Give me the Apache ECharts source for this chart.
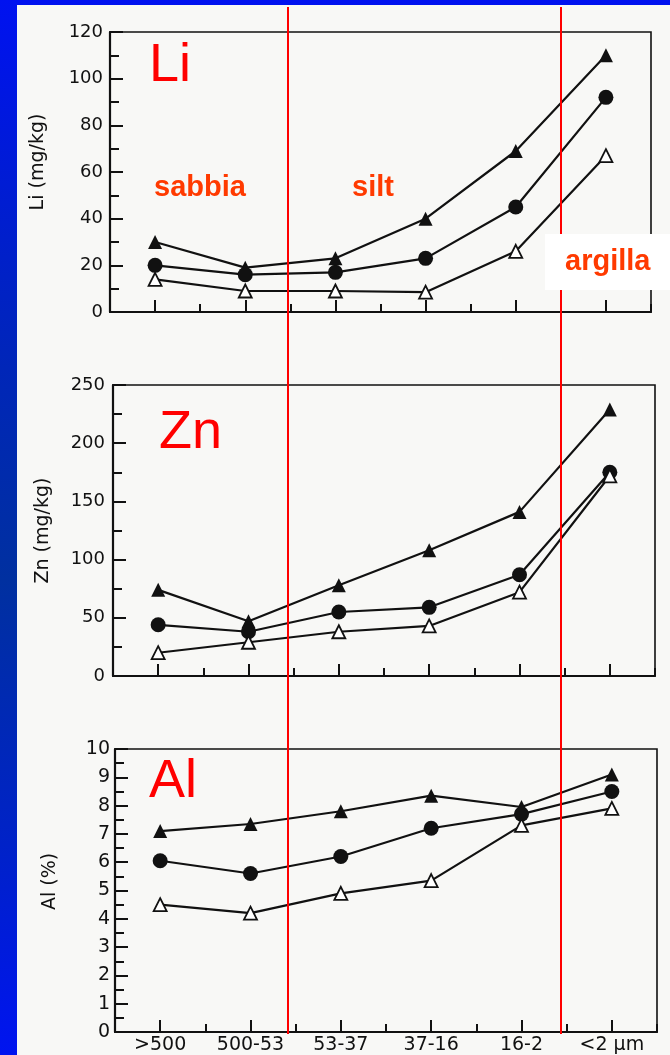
<!DOCTYPE html>
<html>
<head>
<meta charset="utf-8">
<script src="https://cdn.jsdelivr.net/npm/echarts@6/dist/echarts.min.js"></script>
<style>
  html, body { margin: 0; padding: 0; }
  body { width: 670px; height: 1055px; background: linear-gradient(180deg, #0012f0 0%, #0026b8 35%, #0030a0 55%, #0022c8 80%, #0014f0 100%); }
  #chart { width: 670px; height: 1055px; }
</style>
</head>
<body>
<div id="chart"></div>
<script>
// ---- data ----
const categories = ['>500', '500-53', '53-37', '37-16', '16-2', '<2 μm'];

const liFilledTri = [30, 19, 23, 40, 69, 110];
const liCircle    = [20, 16, 17, 23, 45, 92];
const liOpenTri   = [14, 9, 9, 8.5, 26, 67];

const znFilledTri = [74, 47, 78, 108, 141, 229];
const znCircle    = [44, 38, 55, 59, 87, 175];
const znOpenTri   = [20, 29, 38, 43, 72, 172];

const alFilledTri = [7.1, 7.35, 7.8, 8.35, 7.95, 9.1];
const alCircle    = [6.05, 5.6, 6.2, 7.2, 7.7, 8.5];
const alOpenTri   = [4.5, 4.2, 4.9, 5.35, 7.3, 7.9];

const yAxisMax = [120, 250, 10];
const yAxisInterval = [20, 50, 1];
const yAxisNames = ['Li (mg/kg)', 'Zn (mg/kg)', 'Al (%)'];

// ---- chart ----
const ink = '#111111';
const chart = echarts.init(document.getElementById('chart'), null, { renderer: 'canvas' });

const grids = [
  { left: 110, top: 32, width: 541, height: 280 },
  { left: 113, top: 385, width: 542, height: 291 },
  { left: 115, top: 749, width: 542, height: 283 }
].map(g => Object.assign({ show: true, borderColor: ink, borderWidth: 1.6, backgroundColor: 'transparent' }, g));

const xAxes = [];
const yAxes = [];
const labelSizes = [18, 18, 19];
const labelMargins = [7, 8, 5];
const nameGaps = [62, 60, 55];
const namePads = [[0, 0, 0, 20], [0, 0, 0, 0], [0, 0, 0, 18]];
for (let i = 0; i < 3; i++) {
  // boundary (short) ticks
  xAxes.push({
    type: 'category', gridIndex: i, position: 'bottom', data: categories, boundaryGap: true,
    axisLine: { show: true, lineStyle: { color: ink, width: 2.2 } },
    axisTick: { show: true, inside: true, length: 8, alignWithLabel: false, lineStyle: { color: ink, width: 2 } },
    axisLabel: { show: false }, splitLine: { show: false }
  });
  // centre (long) ticks + labels
  xAxes.push({
    type: 'category', gridIndex: i, position: 'bottom', data: categories, boundaryGap: true,
    axisLine: { show: false },
    axisTick: { show: true, inside: true, length: 12, alignWithLabel: true, lineStyle: { color: ink, width: 2 } },
    axisLabel: { show: i === 2, color: '#111', fontSize: 19, fontFamily: 'DejaVu Sans', margin: 4, interval: 0 },
    splitLine: { show: false }
  });
  yAxes.push({
    type: 'value', gridIndex: i, min: 0, max: yAxisMax[i], interval: yAxisInterval[i],
    name: yAxisNames[i], nameLocation: 'middle', nameGap: nameGaps[i], nameRotate: 90,
    nameTextStyle: { color: '#111', fontSize: 19, fontFamily: 'DejaVu Sans', padding: namePads[i] },
    axisLine: { show: true, lineStyle: { color: ink, width: 2.2 } },
    axisTick: { show: true, inside: true, length: 13, lineStyle: { color: ink, width: 2 } },
    minorTick: { show: true, splitNumber: 2, length: 9, lineStyle: { color: ink, width: 2 } },
    axisLabel: { color: '#111', fontSize: labelSizes[i], fontFamily: 'DejaVu Sans', margin: labelMargins[i] },
    splitLine: { show: false }, minorSplitLine: { show: false }
  });
}

function mkSeries(idx, data, kind) {
  const base = {
    type: 'line', xAxisIndex: idx * 2 + 1, yAxisIndex: idx, data: data,
    lineStyle: { color: ink, width: 2.2 }, z: 5, silent: true,
    showAllSymbol: true
  };
  if (kind === 'ftri') {
    return Object.assign(base, { name: 'triangolo pieno', symbol: 'triangle', symbolSize: 14, itemStyle: { color: ink } });
  } else if (kind === 'circ') {
    return Object.assign(base, { name: 'cerchio', symbol: 'circle', symbolSize: 15, itemStyle: { color: ink } });
  }
  return Object.assign(base, { name: 'triangolo vuoto', symbol: 'triangle', symbolSize: 13,
    itemStyle: { color: '#ffffff', borderColor: ink, borderWidth: 1.8 } });
}

const series = [
  mkSeries(0, liFilledTri, 'ftri'), mkSeries(0, liCircle, 'circ'), mkSeries(0, liOpenTri, 'otri'),
  mkSeries(1, znFilledTri, 'ftri'), mkSeries(1, znCircle, 'circ'), mkSeries(1, znOpenTri, 'otri'),
  mkSeries(2, alFilledTri, 'ftri'), mkSeries(2, alCircle, 'circ'), mkSeries(2, alOpenTri, 'otri')
];

const red = '#ff0000';
const orange = '#ff3a00';
const graphic = [
  { type: 'rect', shape: { x: 17, y: 5, width: 653, height: 1050 }, style: { fill: '#f8f8f6' }, z: -10, silent: true },
  { type: 'line', shape: { x1: 288, y1: 7, x2: 288, y2: 1034 }, style: { stroke: red, lineWidth: 2 }, z: 100, silent: true },
  { type: 'line', shape: { x1: 561, y1: 7, x2: 561, y2: 1034 }, style: { stroke: red, lineWidth: 2 }, z: 100, silent: true },
  { type: 'rect', shape: { x: 545, y: 234, width: 125, height: 56 }, style: { fill: '#ffffff' }, z: 110, silent: true },
  { type: 'text', x: 149, y: 66, z: 120, style: { text: 'Li', fill: red, fontSize: 54, fontFamily: 'Liberation Sans', verticalAlign: 'middle', align: 'left' } },
  { type: 'text', x: 159, y: 433, z: 120, style: { text: 'Zn', fill: red, fontSize: 54, fontFamily: 'Liberation Sans', verticalAlign: 'middle', align: 'left' } },
  { type: 'text', x: 149, y: 782, z: 120, style: { text: 'Al', fill: red, fontSize: 54, fontFamily: 'Liberation Sans', verticalAlign: 'middle', align: 'left' } },
  { type: 'text', x: 154, y: 188, z: 120, style: { text: 'sabbia', fill: orange, fontSize: 29, fontWeight: 'bold', fontFamily: 'Liberation Sans', verticalAlign: 'middle', align: 'left' } },
  { type: 'text', x: 352, y: 188, z: 120, style: { text: 'silt', fill: orange, fontSize: 29, fontWeight: 'bold', fontFamily: 'Liberation Sans', verticalAlign: 'middle', align: 'left' } },
  { type: 'text', x: 565, y: 262, z: 120, style: { text: 'argilla', fill: orange, fontSize: 29, fontWeight: 'bold', fontFamily: 'Liberation Sans', verticalAlign: 'middle', align: 'left' } }
];

chart.setOption({
  animation: false,
  backgroundColor: 'transparent',
  grid: grids,
  xAxis: xAxes,
  yAxis: yAxes,
  series: series,
  graphic: graphic
});
</script>
</body>
</html>
